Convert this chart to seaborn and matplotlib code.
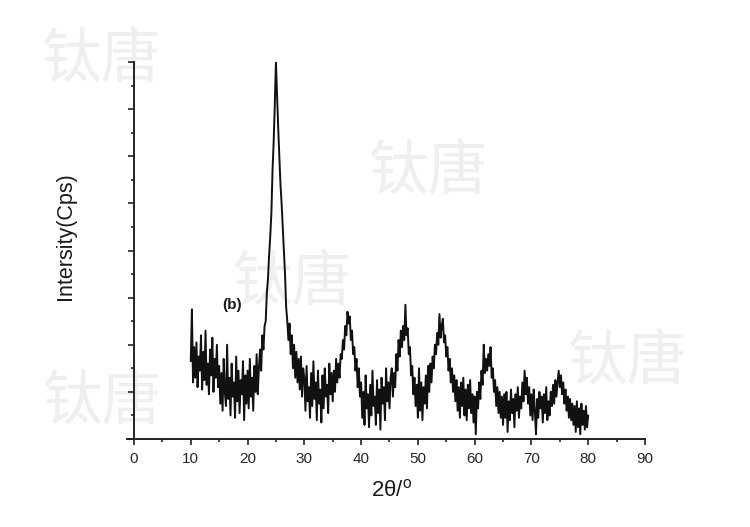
import numpy as np
import pandas as pd
import matplotlib
matplotlib.use("Agg")
import matplotlib.pyplot as plt
import seaborn as sns

# XRD scan, 10-80 deg, step 0.2 deg (intensity in arbitrary axis units)
scan_start = 10.0
scan_step = 0.2
intensity = [
    # 10.0 - 14.8
    3.3, 5.5, 2.4, 3.9, 2.6, 4.1, 2.2, 3.5, 2.9, 4.4, 2.1, 3.7, 2.5, 4.6, 2.3, 3.2, 1.9, 3.8, 2.7, 4.3, 2.0, 3.4, 2.6, 4.0, 2.2,
    # 15.0 - 19.8
    3.1, 1.5, 2.8, 1.2, 3.4, 2.0, 1.4, 4.0, 1.7, 2.6, 1.0, 3.2, 1.8, 2.4, 0.9, 3.5, 1.6, 2.9, 1.1, 2.5, 1.9, 3.3, 0.8, 2.7, 1.5,
    # 20.0 - 24.8
    2.9, 1.3, 3.4, 1.8, 2.6, 1.2, 3.1, 2.0, 3.6, 1.9, 3.0, 3.8, 2.9, 4.4, 3.8, 4.8, 5.0, 6.2, 6.8, 7.8, 8.6, 9.6, 11.4, 12.6, 14.2,
    # 25.0 - 29.8
    16.0, 14.6, 13.2, 12.0, 10.8, 10.0, 9.0, 8.0, 7.0, 5.6, 5.0, 4.2, 4.9, 3.6, 4.4, 3.0, 4.0, 2.6, 3.7, 2.4, 3.4, 2.1, 3.5, 1.8, 3.0,
    # 30.0 - 34.8
    2.6, 1.2, 3.1, 1.6, 2.2, 0.9, 2.8, 1.4, 3.3, 1.7, 2.4, 0.8, 2.9, 1.5, 2.1, 0.7, 2.7, 1.3, 3.0, 1.8, 2.3, 1.1, 3.2, 1.9, 2.8,
    # 35.0 - 39.8
    1.6, 2.9, 2.0, 3.4, 2.4, 3.2, 2.6, 3.6, 3.4, 4.2, 3.8, 4.8, 4.4, 5.4, 4.9, 5.2, 4.2, 4.6, 3.6, 3.9, 2.9, 3.4, 2.2, 3.0, 1.8,
    # 40.0 - 44.8
    2.4, 0.9, 2.0, 0.6, 2.7, 1.3, 1.9, 0.5, 2.3, 1.0, 2.9, 1.4, 1.8, 0.6, 2.5, 1.1, 2.1, 0.4, 2.6, 1.5, 2.2, 0.8, 3.0, 1.6, 2.4,
    # 45.0 - 49.8
    1.3, 2.6, 3.0, 1.8, 2.8, 2.2, 3.6, 2.9, 4.2, 3.5, 4.6, 3.9, 4.8, 4.2, 5.7, 4.4, 4.7, 3.6, 3.9, 2.7, 3.1, 1.9, 2.6, 1.4, 2.3,
    # 50.0 - 54.8
    0.9, 3.0, 1.2, 2.4, 0.8, 2.2, 1.5, 2.7, 1.3, 3.1, 2.0, 3.2, 2.4, 3.5, 3.0, 4.0, 3.6, 4.5, 4.0, 5.3, 4.3, 4.8, 5.1, 4.1, 4.4,
    # 55.0 - 59.8
    3.5, 3.9, 2.9, 3.4, 2.4, 3.0, 2.0, 2.7, 1.6, 2.5, 1.2, 2.2, 0.9, 2.4, 1.4, 2.6, 1.0, 2.1, 0.8, 2.3, 1.3, 2.5, 1.1, 1.9, 0.7,
    # 60.0 - 64.8
    1.8, 0.2, 2.0, 1.3, 2.4, 1.7, 2.9, 2.3, 4.0, 2.8, 3.4, 2.9, 3.6, 3.1, 3.9, 2.6, 3.0, 2.0, 2.5, 1.4, 2.2, 1.1, 2.0, 0.9, 1.8,
    # 65.0 - 69.8
    0.6, 1.9, 0.9, 2.0, 0.3, 1.6, 0.8, 2.1, 1.1, 1.7, 0.5, 1.9, 1.2, 2.2, 0.9, 1.8, 1.3, 2.4, 1.6, 2.9, 1.9, 2.6, 1.5, 2.2, 1.0,
    # 70.0 - 74.8
    1.9, 0.8, 2.1, 1.2, 0.2, 1.7, 0.9, 2.0, 1.3, 1.8, 0.7, 1.9, 1.1, 2.2, 0.8, 1.6, 1.0, 2.0, 1.4, 2.3, 1.5, 2.5, 1.8, 2.4, 2.9,
    # 75.0 - 80.0
    2.2, 2.7, 1.9, 2.4, 1.5, 2.1, 1.2, 1.8, 0.9, 1.7, 0.8, 1.5, 0.6, 1.4, 0.3, 1.6, 0.5, 1.3, 0.2, 1.5, 0.6, 1.2, 0.4, 1.4, 0.5, 1.0,
]
two_theta = np.round(scan_start + scan_step * np.arange(len(intensity)), 1)

x_ticks = [0, 10, 20, 30, 40, 50, 60, 70, 80, 90]
watermark = "钛唐"

df = pd.DataFrame({"two_theta": two_theta, "intensity": intensity})

sns.set_style("ticks")
plt.rcParams["font.family"] = ["Liberation Sans", "DejaVu Sans"]

fig = plt.figure(figsize=(7.5, 5.27), dpi=100)

# light watermarks behind the plot
for (px, py) in [(101, 60), (428, 172), (292, 283), (102, 402), (627, 362)]:
    fig.text(px / 750, 1 - py / 527, watermark, ha="center", va="center",
             fontsize=43, color="#efefef", zorder=-5,
             family=["Noto Sans CJK SC", "DejaVu Sans"])

ax = fig.add_axes([126.6 / 750, 1 - 439 / 527, (645 - 126.6) / 750, 377 / 527])
ax.patch.set_alpha(0)

sns.lineplot(data=df, x="two_theta", y="intensity", ax=ax, color="#111111",
             linewidth=1.4, estimator=None, sort=False)

ax.set_xlim(-1.3, 90)
ax.set_ylim(0, 16)
ax.spines["left"].set_position(("data", 0))
ax.spines["right"].set_visible(False)
ax.spines["top"].set_visible(False)
for s in ["left", "bottom"]:
    ax.spines[s].set_linewidth(1.4)
    ax.spines[s].set_color("#222222")

ax.set_xticks(x_ticks)
ax.set_xticklabels([str(v) for v in x_ticks])
ax.set_xticks(np.arange(5, 90, 10), minor=True)
ax.set_yticks(np.arange(0, 17, 2))
ax.set_yticks(np.arange(1, 16, 2), minor=True)
ax.set_yticklabels([])
ax.tick_params(which="major", direction="out", length=4.5, width=1.2, color="#222222",
               labelsize=11, pad=5)
ax.tick_params(which="minor", direction="out", length=2.3, width=1.2, color="#222222")
ax.set_xlabel("")
ax.set_ylabel("")

fig.text(65 / 750, 1 - 236 / 527, "Intersity(Cps)", rotation=90, ha="center",
         va="center", fontsize=15.5, color="#1a1a1a")
fig.text(392 / 750, 1 - 490 / 527, "2θ/$^{\\mathregular{o}}$", ha="center",
         va="center", fontsize=16, color="#1a1a1a")
ax.text(17.3, 5.7, "(b)", ha="center", va="center", fontsize=11, fontweight="bold",
        color="#1a1a1a")

fig.savefig("out.png", dpi=100)
